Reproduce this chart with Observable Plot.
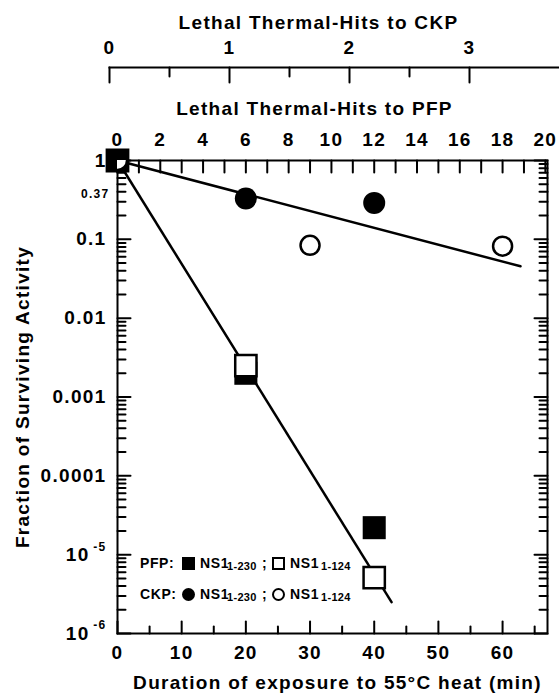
<!DOCTYPE html>
<html>
<head>
<meta charset="utf-8">
<script src="https://cdn.jsdelivr.net/npm/d3@7"></script>
<script src="https://cdn.jsdelivr.net/npm/@observablehq/plot@0.6"></script>
<style>
  body { margin: 0; background: #fff; }
  #wrap { position: relative; width: 559px; height: 695px; font-family: "Liberation Sans", Arial, sans-serif; font-weight: bold; color: #000; }
  #wrap svg { display: block; background: transparent; }
  #wrap svg text { letter-spacing: 1.3px; }
  .lg { position: absolute; line-height: 18px; height: 18px; white-space: nowrap; }
  .lg.lab { font-size: 14px; letter-spacing: 0.6px; }
  .lg.ns { font-size: 14px; letter-spacing: 0.6px; }
  .lg.sub { font-size: 11px; letter-spacing: 0.3px; }
  .sym { position: absolute; box-sizing: border-box; }
</style>
</head>
<body>
<div id="wrap"></div>
<script>
// ---------------- data ----------------
// PFP (squares)
const pfpFilledTime = [0, 20, 40];
const pfpFilledFrac = [1, 0.0020, 2.2e-5];
const pfpOpenTime   = [0, 20, 40];
const pfpOpenFrac   = [1, 0.0025, 5.1e-6];
// CKP (circles)
const ckpFilledTime = [0, 20, 40];
const ckpFilledFrac = [1, 0.33, 0.29];
const ckpOpenTime   = [0, 30, 60];
const ckpOpenFrac   = [1, 0.084, 0.082];
// fitted lines (end points)
const pfpFitTime = [0, 42.7];
const pfpFitFrac = [1, 2.5e-6];
const ckpFitTime = [0, 62.8];
const ckpFitFrac = [1, 0.0455];

// axes
const xMajorTicks = [0, 10, 20, 30, 40, 50, 60];
const xMinorTicks = [5, 15, 25, 35, 45, 55, 65];
const minutesPerPfpHit = 20 / 6;
const pfpHitTicks = [0,1,2,3,4,5,6,7,8,9,10,11,12,13,14,15,16,17,18,19,20];
const ckpHitTicks = [0, 1, 2, 3];
const ckpHalfTicks = [0.5, 1.5, 2.5];
const yMajorTicks  = [1, 0.1, 0.01, 0.001, 0.0001, 1e-5, 1e-6];
const yMajorLabels = ["1", "0.1", "0.01", "0.001", "0.0001", "10", "10"];
const yExpTicks  = [1e-5, 1e-6];
const yExpLabels = ["-5", "-6"];
const yMinorMantissa = [2, 3, 4, 5, 6, 7, 8, 9];
const yDecades = [1e-6, 1e-5, 1e-4, 1e-3, 1e-2, 1e-1];
const ySpecialTick = 0.37;

const ckpTitle = "Lethal Thermal-Hits to CKP";
const pfpTitle = "Lethal Thermal-Hits to PFP";
const xTitle = "Duration of exposure to 55°C heat (min)";
const yTitle = "Fraction of Surviving Activity";

// ---------------- build tables ----------------
const zipTF = (t, f) => t.map((d, i) => ({t: d, f: f[i]}));
const pfpFilled = zipTF(pfpFilledTime, pfpFilledFrac);
const pfpOpen = zipTF(pfpOpenTime, pfpOpenFrac);
const ckpFilled = zipTF(ckpFilledTime, ckpFilledFrac);
const ckpOpen = zipTF(ckpOpenTime, ckpOpenFrac);
const pfpFit = zipTF(pfpFitTime, pfpFitFrac);
const ckpFit = zipTF(ckpFitTime, ckpFitFrac);
const yMinorTicks = yDecades.flatMap(d => yMinorMantissa.map(m => m * d));
const pfpTickMinutes = pfpHitTicks.map(h => h * minutesPerPfpHit);
const yMajorTable = yMajorTicks.map((v, i) => ({v, label: yMajorLabels[i]}));
const yExpTable = yExpTicks.map((v, i) => ({v, label: yExpLabels[i]}));

const FF = "Liberation Sans, Arial, sans-serif";
const wrap = document.getElementById("wrap");

// ---------------- top CKP axis ----------------
const ckpH = 90, ckpMT = 67, ckpMB = 8;
const ckpFrameH = ckpH - ckpMT - ckpMB; // 15 px; y scale 0..1 spans it
const ckpSegs = [];
{
  let id = 0;
  ckpHitTicks.forEach(h => { ckpSegs.push({id, x: h, y: 1}, {id, x: h, y: 0}); id++; });
  ckpHalfTicks.forEach(h => { ckpSegs.push({id, x: h, y: 1}, {id, x: h, y: 1 - 9 / ckpFrameH}); id++; });
}
const ckpPlot = Plot.plot({
  width: 559, height: ckpH,
  marginTop: ckpMT, marginBottom: ckpMB, marginLeft: 109, marginRight: 0,
  style: {fontFamily: FF, background: "transparent", color: "black"},
  x: {domain: [0, 3.75], axis: null},
  y: {domain: [0, 1], axis: null},
  marks: [
    Plot.frame({anchor: "top", strokeWidth: 2}),
    Plot.text(ckpHitTicks, {x: d => d, text: d => String(d), frameAnchor: "top", dy: -14,
      lineAnchor: "bottom", fontSize: 19, fontWeight: "bold"}),
    Plot.text([ckpTitle], {text: d => d, frameAnchor: "top-left", dx: 318 - 109, dy: 22 - 67,
      textAnchor: "middle", lineAnchor: "middle", fontSize: 19, fontWeight: "bold"}),
    Plot.line(ckpSegs, {x: "x", y: "y", z: "id", stroke: "black", strokeWidth: 2})
  ]
});
wrap.appendChild(ckpPlot);

// ---------------- main plot ----------------
const W = 559, H = 605, MT = 70, MB = 62, ML = 117, MR = 12;
const frameH = H - MT - MB, frameW = W - ML - MR;
const X0 = 0, X1 = 67, Y0 = 1e-6, Y1 = 1;
const minPerPx = (X1 - X0) / frameW;           // minutes per pixel
const decPerPx = Math.log10(Y1 / Y0) / frameH;  // decades per pixel
const up = px => Math.pow(10, px * decPerPx);
// inward tick segments, expressed in data units of the two scales
const tickSegs = [];
{
  let id = 0;
  const seg = (x1, y1, x2, y2) => { tickSegs.push({id, x: x1, y: y1}, {id, x: x2, y: y2}); id++; };
  xMajorTicks.forEach(t => seg(t, Y0, t, Y0 * up(12)));
  xMinorTicks.forEach(t => seg(t, Y0, t, Y0 * up(7)));
  pfpTickMinutes.forEach(t => seg(t, Y1, t, Y1 / up(12)));
  yMajorTicks.forEach(v => { seg(X0, v, X0 + 13 * minPerPx, v); seg(X1, v, X1 - 13 * minPerPx, v); });
  yMinorTicks.forEach(v => { seg(X0, v, X0 + 8 * minPerPx, v); seg(X1, v, X1 - 8 * minPerPx, v); });
}

const main = Plot.plot({
  width: W, height: H,
  marginTop: MT, marginBottom: MB, marginLeft: ML, marginRight: MR,
  style: {fontFamily: FF, background: "transparent", color: "black"},
  x: {domain: [X0, X1], axis: null},
  y: {type: "log", domain: [Y0, Y1], axis: null},
  marks: [
    Plot.frame({strokeWidth: 2}),
    // x labels
    Plot.text(xMajorTicks, {x: d => d, text: d => String(d), frameAnchor: "bottom", dy: 12,
      lineAnchor: "top", fontSize: 19, fontWeight: "bold"}),
    Plot.text(pfpTickMinutes.filter((d, i) => pfpHitTicks[i] % 2 === 0), {x: d => d,
      text: d => String(Math.round(d / minutesPerPfpHit)), frameAnchor: "top", dy: -15,
      lineAnchor: "bottom", fontSize: 19, fontWeight: "bold"}),
    // y labels
    Plot.text(yMajorTable.filter(d => d.label !== "10"), {y: "v", text: "label", frameAnchor: "left", dx: -11,
      textAnchor: "end", lineAnchor: "middle", fontSize: 19, fontWeight: "bold"}),
    Plot.text(yMajorTable.filter(d => d.label === "10"), {y: "v", text: "label", frameAnchor: "left", dx: -28,
      textAnchor: "end", lineAnchor: "middle", fontSize: 19, fontWeight: "bold"}),
    Plot.text(yExpTable, {y: "v", text: "label", frameAnchor: "left", dx: -11, dy: -8,
      textAnchor: "end", lineAnchor: "middle", fontSize: 12, fontWeight: "bold"}),
    Plot.text([ySpecialTick], {y: d => d, text: d => String(d), frameAnchor: "left", dx: -8,
      textAnchor: "end", lineAnchor: "middle", fontSize: 12, fontWeight: "bold"}),
    // titles
    Plot.text([pfpTitle], {text: d => d, frameAnchor: "top", dx: -18, dy: -52,
      textAnchor: "middle", lineAnchor: "middle", fontSize: 19, fontWeight: "bold"}),
    Plot.text([xTitle], {text: d => d, frameAnchor: "bottom", dx: 5, dy: 49,
      textAnchor: "middle", lineAnchor: "middle", fontSize: 19, fontWeight: "bold"}),
    Plot.text([yTitle], {text: d => d, frameAnchor: "left", dx: -95, rotate: -90,
      textAnchor: "middle", lineAnchor: "middle", fontSize: 19, fontWeight: "bold"}),
    // inward ticks on all four sides
    Plot.line(tickSegs, {x: "x", y: "y", z: "id", stroke: "black", strokeWidth: 2}),
    // fitted lines
    Plot.line(pfpFit, {x: "t", y: "f", stroke: "black", strokeWidth: 2.5}),
    Plot.line(ckpFit, {x: "t", y: "f", stroke: "black", strokeWidth: 2.5}),
    // markers
    Plot.dot(pfpOpen.filter(d => d.t === 0), {x: "t", y: "f", symbol: "square", r: 12, fill: "white", stroke: "black", strokeWidth: 2.5}),
    Plot.dot(pfpFilled, {x: "t", y: "f", symbol: "square", r: 13, fill: "black", stroke: "none"}),
    Plot.dot(pfpOpen.filter(d => d.t !== 0), {x: "t", y: "f", symbol: "square", r: 12, fill: "white", stroke: "black", strokeWidth: 2.5}),
    Plot.dot(ckpFilled, {x: "t", y: "f", r: 11, fill: "black", stroke: "none", clip: true}),
    Plot.dot(ckpOpen, {x: "t", y: "f", r: 9.5, fill: "white", stroke: "black", strokeWidth: 2.5, clip: true})
  ]
});
wrap.appendChild(main);

// ---------------- legend (inside the frame) ----------------
const legendRows = [
  {label: "PFP:", shape: "square", cy: 563},
  {label: "CKP:", shape: "circle", cy: 594}
];
const legendSeries = ["NS1", "NS1"];
const legendSubs = ["1-230", "1-124"];
function addEl(cls, txt, left, top) {
  const el = document.createElement("div");
  el.className = "lg " + cls;
  el.textContent = txt;
  el.style.left = left + "px";
  el.style.top = top + "px";
  wrap.appendChild(el);
  return el;
}
function addSym(shape, filled, left, cy) {
  const el = document.createElement("div");
  el.className = "sym";
  const s = 13;
  el.style.left = left + "px";
  el.style.top = (cy - s / 2) + "px";
  el.style.width = s + "px";
  el.style.height = s + "px";
  el.style.background = filled ? "#000" : "#fff";
  el.style.border = filled ? "none" : "2px solid #000";
  if (shape === "circle") el.style.borderRadius = "50%";
  wrap.appendChild(el);
}
legendRows.forEach(r => {
  addEl("lab", r.label, 140, r.cy - 9);
  addSym(r.shape, true, 182, r.cy);
  addEl("ns", legendSeries[0], 200, r.cy - 9);
  addEl("sub", legendSubs[0], 227, r.cy - 6);
  addEl("ns", ";", 262, r.cy - 9);
  addSym(r.shape, false, 272, r.cy);
  addEl("ns", legendSeries[1], 290, r.cy - 9);
  addEl("sub", legendSubs[1], 321, r.cy - 6);
});
</script>
</body>
</html>
